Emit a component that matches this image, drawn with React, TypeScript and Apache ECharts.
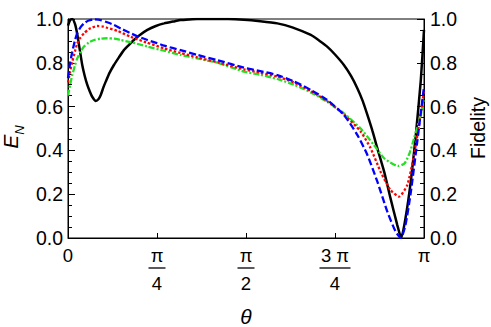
import React, { useEffect, useRef } from "react";
import * as echarts from "echarts";

// theta values are in units of π
const fidTheta = [0, 0.006, 0.012, 0.02, 0.026, 0.033, 0.04, 0.047, 0.054, 0.061, 0.068, 0.078, 0.086, 0.092, 0.1, 0.106, 0.117, 0.129, 0.143, 0.157, 0.17, 0.185, 0.2, 0.223, 0.245, 0.27, 0.3, 0.316, 0.34, 0.363, 0.4, 0.45, 0.494, 0.54, 0.588, 0.63, 0.682, 0.705, 0.728, 0.75, 0.775, 0.795, 0.813, 0.828, 0.841, 0.855, 0.869, 0.888, 0.906, 0.925, 0.936, 0.948, 0.963, 0.977, 0.991, 1.0];
const fidValues = [0.97, 0.995, 1.0, 0.975, 0.93, 0.86, 0.79, 0.74, 0.70, 0.67, 0.645, 0.626, 0.635, 0.653, 0.69, 0.714, 0.755, 0.79, 0.825, 0.858, 0.88, 0.904, 0.925, 0.95, 0.967, 0.98, 0.99, 0.995, 0.998, 1.0, 1.0, 1.0, 0.997, 0.99, 0.98, 0.962, 0.927, 0.902, 0.874, 0.838, 0.79, 0.74, 0.683, 0.625, 0.562, 0.49, 0.409, 0.303, 0.181, 0.059, 0.0, 0.09, 0.26, 0.47, 0.72, 0.95];

const blueTheta = [0, 0.006, 0.012, 0.02, 0.026, 0.035, 0.045, 0.058, 0.073, 0.092, 0.11, 0.129, 0.15, 0.176, 0.2, 0.223, 0.25, 0.27, 0.316, 0.363, 0.42, 0.494, 0.54, 0.588, 0.635, 0.682, 0.728, 0.775, 0.813, 0.841, 0.869, 0.897, 0.92, 0.935, 0.948, 0.963, 0.981, 1.0];
const blueValues = [0.73, 0.80, 0.85, 0.905, 0.935, 0.962, 0.98, 0.993, 0.998, 0.995, 0.985, 0.973, 0.955, 0.935, 0.918, 0.904, 0.89, 0.878, 0.858, 0.836, 0.812, 0.778, 0.762, 0.744, 0.715, 0.676, 0.63, 0.562, 0.47, 0.379, 0.257, 0.12, 0.03, 0.0, 0.06, 0.21, 0.44, 0.69];

const redTheta = [0, 0.006, 0.012, 0.02, 0.026, 0.035, 0.045, 0.06, 0.082, 0.1, 0.11, 0.14, 0.176, 0.22, 0.27, 0.316, 0.363, 0.42, 0.494, 0.54, 0.588, 0.635, 0.682, 0.728, 0.775, 0.822, 0.85, 0.878, 0.906, 0.93, 0.953, 0.972, 0.986, 1.0];
const redValues = [0.71, 0.76, 0.805, 0.855, 0.889, 0.915, 0.935, 0.955, 0.968, 0.965, 0.96, 0.945, 0.919, 0.893, 0.866, 0.845, 0.825, 0.802, 0.770, 0.755, 0.737, 0.71, 0.671, 0.625, 0.565, 0.486, 0.41, 0.303, 0.219, 0.189, 0.242, 0.379, 0.516, 0.67];

const greenTheta = [0, 0.006, 0.012, 0.02, 0.026, 0.035, 0.045, 0.058, 0.073, 0.09, 0.11, 0.13, 0.148, 0.18, 0.223, 0.27, 0.316, 0.363, 0.42, 0.494, 0.54, 0.588, 0.635, 0.682, 0.728, 0.775, 0.822, 0.859, 0.888, 0.91, 0.927, 0.945, 0.96, 0.972, 0.991, 1.0];
const greenValues = [0.65, 0.70, 0.744, 0.79, 0.82, 0.85, 0.874, 0.892, 0.904, 0.91, 0.912, 0.91, 0.904, 0.893, 0.874, 0.855, 0.836, 0.82, 0.80, 0.76, 0.745, 0.726, 0.70, 0.665, 0.622, 0.569, 0.50, 0.425, 0.364, 0.34, 0.329, 0.34, 0.39, 0.455, 0.562, 0.64];

const xTickValues = [0, 0.25, 0.5, 0.75, 1];
const xTickNumerators = ["0", "π", "π", "3 π", "π"];
const xTickDenominators = ["", "4", "2", "4", ""];

const FONT = "'Liberation Sans', Arial, sans-serif";

const pairs = (xs: number[], ys: number[]) => xs.map((x, i) => [x, ys[i]]);

export default function App() {
  const ref = useRef<HTMLDivElement>(null);
  useEffect(() => {
    if (!ref.current) return;
    const chart = echarts.init(ref.current, null, { renderer: "svg" });
    const yAxisCommon = {
      type: "value" as const,
      min: 0,
      max: 1,
      interval: 0.2,
      axisLine: { show: true, lineStyle: { color: "#000", width: 1 } },
      axisTick: { show: true, inside: true, length: 7, lineStyle: { color: "#000" } },
      minorTick: { show: true, splitNumber: 4, length: 4, lineStyle: { color: "#000" } },
      splitLine: { show: false },
      axisLabel: {
        color: "#000",
        fontFamily: FONT,
        fontSize: 19.5,
        formatter: (v: number) => v.toFixed(1),
      },
    };
    chart.setOption({
      animation: false,
      grid: {
        left: 68,
        right: 67,
        top: 19,
        bottom: 89,
        show: true,
        borderColor: "#000",
        borderWidth: 1,
      },
      xAxis: {
        type: "value",
        min: 0,
        max: 1,
        interval: 0.25,
        axisLine: { show: true, lineStyle: { color: "#000", width: 1 } },
        axisTick: { show: true, inside: true, length: 5, lineStyle: { color: "#000" } },
        splitLine: { show: false },
        axisLabel: {
          color: "#000",
          fontFamily: FONT,
          margin: 7,
          formatter: (v: number) => {
            const i = xTickValues.findIndex((t) => Math.abs(t - v) < 1e-6);
            if (i < 0) return "";
            const den = xTickDenominators[i];
            if (!den) return `{num|${xTickNumerators[i]}}`;
            const bar = xTickNumerators[i].length > 1 ? "bar3" : "bar1";
            return `{num|${xTickNumerators[i]}}\n{${bar}| }\n{den|${den}}`;
          },
          rich: {
            num: { fontFamily: FONT, fontSize: 18.5, lineHeight: 20, color: "#000" },
            bar1: { width: 17, height: 1.3, lineHeight: 6, backgroundColor: "#000", fontSize: 1 },
            bar3: { width: 31, height: 1.3, lineHeight: 6, backgroundColor: "#000", fontSize: 1 },
            den: { fontFamily: FONT, fontSize: 18.5, lineHeight: 24, color: "#000" },
          },
        },
      },
      yAxis: [
        { ...yAxisCommon, position: "left", axisLabel: { ...yAxisCommon.axisLabel, margin: 5 } },
        { ...yAxisCommon, position: "right", axisLabel: { ...yAxisCommon.axisLabel, margin: 6 } },
      ],
      graphic: [
        {
          type: "text",
          x: 10,
          y: 137,
          rotation: Math.PI / 2,
          style: {
            text: "{e|E}{n|N}",
            align: "center",
            verticalAlign: "middle",
            rich: {
              e: { fontFamily: FONT, fontSize: 21, fontStyle: "italic", fill: "#000", lineHeight: 24 },
              n: { fontFamily: FONT, fontSize: 13, fontStyle: "italic", fill: "#000", lineHeight: 24, verticalAlign: "bottom", padding: [0, 0, -4, 0] },
            },
          },
        },
        {
          type: "text",
          x: 478,
          y: 128,
          rotation: Math.PI / 2,
          style: {
            text: "Fidelity",
            fontFamily: FONT,
            fontSize: 19.5,
            fill: "#000",
            align: "center",
            verticalAlign: "middle",
          },
        },
        {
          type: "text",
          x: 246,
          y: 316,
          style: {
            text: "θ",
            fontFamily: FONT,
            fontSize: 21,
            fontStyle: "italic",
            fill: "#000",
            align: "center",
            verticalAlign: "middle",
          },
        },
      ],
      series: [
        {
          type: "line",
          yAxisIndex: 1,
          data: pairs(fidTheta, fidValues),
          showSymbol: false,
          symbol: "none",
          smooth: 0.2,
          lineStyle: { color: "#000", width: 2.5 },
          z: 2,
        },
        {
          type: "line",
          data: pairs(greenTheta, greenValues),
          showSymbol: false,
          symbol: "none",
          smooth: 0.2,
          lineStyle: { color: "#22e022", width: 2.3, type: [6, 2, 2, 2] },
          z: 3,
        },
        {
          type: "line",
          data: pairs(redTheta, redValues),
          showSymbol: false,
          symbol: "none",
          smooth: 0.2,
          lineStyle: { color: "#ff0000", width: 2.3, type: [2.5, 2] },
          z: 4,
        },
        {
          type: "line",
          data: pairs(blueTheta, blueValues),
          showSymbol: false,
          symbol: "none",
          smooth: 0.2,
          lineStyle: { color: "#0000ff", width: 2.3, type: [7, 3] },
          z: 5,
        },
      ],
    });
    return () => chart.dispose();
  }, []);
  return (
    <div
      ref={ref}
      style={{ position: "fixed", left: 0, top: 0, width: 491, height: 327, background: "#fff" }}
    />
  );
}
